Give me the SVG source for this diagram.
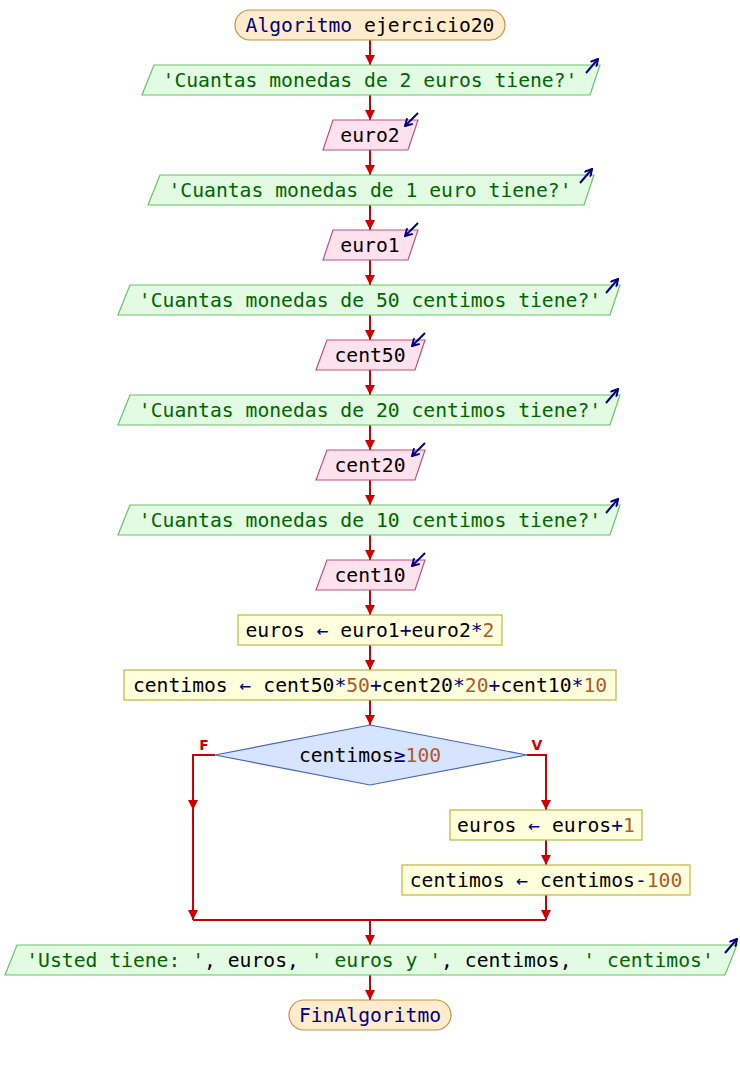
<svg xmlns="http://www.w3.org/2000/svg" width="740" height="1065" viewBox="0 0 740 1065">
  <defs>
    <marker id="flow" markerUnits="userSpaceOnUse" markerWidth="10" markerHeight="10" viewBox="0 0 10 10" refX="10" refY="5" orient="auto">
      <path d="M0,0 L10,5 L0,10 z" fill="#cc0000"/>
    </marker>
    <marker id="io" markerUnits="userSpaceOnUse" markerWidth="9" markerHeight="9" viewBox="0 0 9 9" refX="8" refY="4.5" orient="auto">
      <path d="M1,0.5 L8,4.5 L1,8.5" fill="none" stroke="#000080" stroke-width="2"/>
    </marker>
    <style>
      text { font-family: "DejaVu Sans Mono", "Liberation Mono", monospace; font-size: 19.7px; text-anchor: middle; fill: #000000; }
      .kw { fill: #000080; }
      .op { fill: #000080; }
      .str { fill: #006600; }
      .num { fill: #b05a2a; }
      .lbl { font-family: "DejaVu Sans", sans-serif; font-size: 14px; font-weight: bold; fill: #cc0000; }
      .term { fill: #ffeccc; stroke: #c89040; stroke-width: 1.2; }
      .out { fill: #e2fbe2; stroke: #66c466; stroke-width: 1.2; }
      .inp { fill: #fde2ee; stroke: #c0507f; stroke-width: 1.2; }
      .asg { fill: #ffffdc; stroke: #c4b444; stroke-width: 1.2; }
      .dec { fill: #d6e4ff; stroke: #4466bb; stroke-width: 1.2; }
      .ioarrow { stroke: #000080; stroke-width: 2; fill: none; marker-end: url(#io); }
      #connectors path { stroke: #cc0000; stroke-width: 2; fill: none; }
      #connectors .a { marker-end: url(#flow); }
    </style>
  </defs>

  <!-- connectors -->
  <g id="connectors">
    <path class="a" d="M370,40 V65"/>
    <path class="a" d="M370,95 V120"/>
    <path class="a" d="M370,150 V175"/>
    <path class="a" d="M370,205 V230"/>
    <path class="a" d="M370,260 V285"/>
    <path class="a" d="M370,315 V340"/>
    <path class="a" d="M370,370 V395"/>
    <path class="a" d="M370,425 V450"/>
    <path class="a" d="M370,480 V505"/>
    <path class="a" d="M370,535 V560"/>
    <path class="a" d="M370,590 V615"/>
    <path class="a" d="M370,645 V670"/>
    <path class="a" d="M370,700 V725"/>
    <path class="a" d="M215,755 H193 V810"/>
    <path class="a" d="M193,810 V920"/>
    <path class="a" d="M527,755 H546 V810"/>
    <path class="a" d="M546,840 V865"/>
    <path class="a" d="M546,895 V920"/>
    <path d="M193,920 H546"/>
    <path class="a" d="M370,920 V945"/>
    <path class="a" d="M370,975 V1000"/>
  </g>

  <g id="start">
    <rect class="term" x="235" y="10" width="270" height="30" rx="15"/>
    <text x="370" y="32"><tspan class="kw">Algoritmo</tspan> ejercicio20</text>
  </g>

  <g id="out1">
    <polygon class="out" points="154,65 600,65 590,95 142,95"/>
    <text x="370" y="87" class="str">'Cuantas monedas de 2 euros tiene?'</text>
    <path class="ioarrow" d="M586,73 L598,59"/>
  </g>

  <g id="in1">
    <polygon class="inp" points="333,120 418,120 408,150 323,150"/>
    <text x="370" y="142">euro2</text>
    <path class="ioarrow" d="M418,113 L405,126"/>
  </g>

  <g id="out2">
    <polygon class="out" points="160,175 594,175 584,205 148,205"/>
    <text x="370" y="197" class="str">'Cuantas monedas de 1 euro tiene?'</text>
    <path class="ioarrow" d="M580,183 L592,169"/>
  </g>

  <g id="in2">
    <polygon class="inp" points="333,230 418,230 408,260 323,260"/>
    <text x="370" y="252">euro1</text>
    <path class="ioarrow" d="M418,223 L405,236"/>
  </g>

  <g id="out3">
    <polygon class="out" points="130,285 620,285 610,315 118,315"/>
    <text x="370" y="307" class="str">'Cuantas monedas de 50 centimos tiene?'</text>
    <path class="ioarrow" d="M606,293 L618,279"/>
  </g>

  <g id="in3">
    <polygon class="inp" points="327,340 425,340 415,370 316,370"/>
    <text x="370" y="362">cent50</text>
    <path class="ioarrow" d="M425,333 L412,346"/>
  </g>

  <g id="out4">
    <polygon class="out" points="130,395 620,395 610,425 118,425"/>
    <text x="370" y="417" class="str">'Cuantas monedas de 20 centimos tiene?'</text>
    <path class="ioarrow" d="M606,403 L618,389"/>
  </g>

  <g id="in4">
    <polygon class="inp" points="327,450 425,450 415,480 316,480"/>
    <text x="370" y="472">cent20</text>
    <path class="ioarrow" d="M425,443 L412,456"/>
  </g>

  <g id="out5">
    <polygon class="out" points="130,505 620,505 610,535 118,535"/>
    <text x="370" y="527" class="str">'Cuantas monedas de 10 centimos tiene?'</text>
    <path class="ioarrow" d="M606,513 L618,499"/>
  </g>

  <g id="in5">
    <polygon class="inp" points="327,560 425,560 415,590 316,590"/>
    <text x="370" y="582">cent10</text>
    <path class="ioarrow" d="M425,553 L412,566"/>
  </g>

  <g id="assign1">
    <rect class="asg" x="238" y="615" width="264" height="30"/>
    <text x="370" y="637">euros <tspan class="op">←</tspan> euro1<tspan class="op">+</tspan>euro2<tspan class="op">*</tspan><tspan class="num">2</tspan></text>
  </g>

  <g id="assign2">
    <rect class="asg" x="124" y="670" width="492" height="30"/>
    <text x="370" y="692">centimos <tspan class="op">←</tspan> cent50<tspan class="op">*</tspan><tspan class="num">50</tspan><tspan class="op">+</tspan>cent20<tspan class="op">*</tspan><tspan class="num">20</tspan><tspan class="op">+</tspan>cent10<tspan class="op">*</tspan><tspan class="num">10</tspan></text>
  </g>

  <g id="decision">
    <polygon class="dec" points="370,725 527,755 370,785 215,755"/>
    <text x="370" y="762">centimos<tspan class="op">≥</tspan><tspan class="num">100</tspan></text>
    <text class="lbl" x="204" y="750">F</text>
    <text class="lbl" x="537" y="750">V</text>
  </g>

  <g id="assign3">
    <rect class="asg" x="450" y="810" width="192" height="30"/>
    <text x="546" y="832">euros <tspan class="op">←</tspan> euros<tspan class="op">+</tspan><tspan class="num">1</tspan></text>
  </g>

  <g id="assign4">
    <rect class="asg" x="402" y="865" width="288" height="30"/>
    <text x="546" y="887">centimos <tspan class="op">←</tspan> centimos<tspan class="op">-</tspan><tspan class="num">100</tspan></text>
  </g>

  <g id="out6">
    <polygon class="out" points="17,945 737,945 725,975 5,975"/>
    <text x="370" y="967"><tspan class="str">'Usted tiene: '</tspan>, euros, <tspan class="str">' euros y '</tspan>, centimos, <tspan class="str">' centimos'</tspan></text>
    <path class="ioarrow" d="M725,953 L737,939"/>
  </g>

  <g id="end">
    <rect class="term" x="289" y="1000" width="162" height="30" rx="15"/>
    <text x="370" y="1022" class="kw">FinAlgoritmo</text>
  </g>
</svg>
